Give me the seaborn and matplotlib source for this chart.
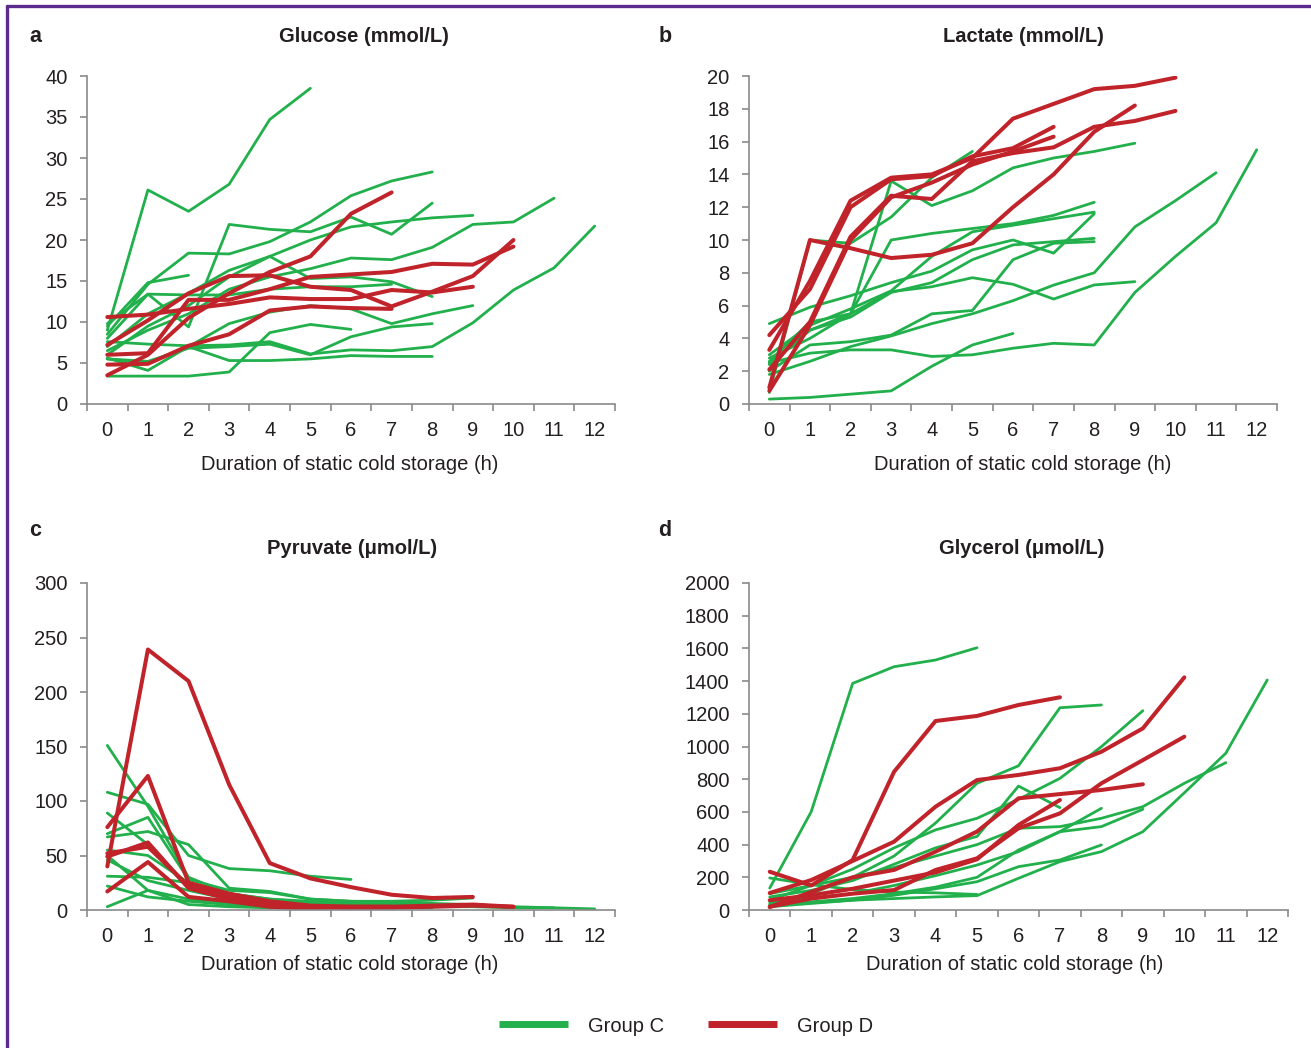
import matplotlib
matplotlib.use("Agg")
import matplotlib.pyplot as plt
from matplotlib.lines import Line2D
from matplotlib.ticker import FixedLocator, FixedFormatter, NullFormatter
import numpy as np
import pandas as pd
import seaborn as sns

GREEN = "#21B04B"
RED = "#C1232B"
PURPLE = "#5B2C8E"
TEXT = "#231F20"
SPINE = "#8A8A8A"

W, H = 1311, 1048

hours = list(range(13))
hour_labels = [str(h) for h in hours]

# each inner list = one kidney, values at 0, 1, 2, ... h
glucose_c = [
    [9.0, 26.1, 23.5, 26.8, 34.7, 38.5],
    [7.6, 7.3, 7.1, 7.2, 7.6, 6.1, 6.6, 6.5, 7.0, 9.9, 13.9, 16.6, 21.7],
    [5.6, 4.1, 7.0, 5.3, 5.3, 5.5, 5.9, 5.8, 5.8],
    [3.4, 3.4, 3.4, 3.9, 8.7, 9.7, 9.1],
    [8.5, 14.6, 18.4, 18.3, 19.8, 22.2, 25.4, 27.2, 28.3],
    [6.5, 9.0, 11.0, 14.0, 15.5, 16.5, 17.8, 17.6, 19.1, 21.9, 22.2, 25.1],
    [8.0, 13.4, 9.4, 21.9, 21.3, 21.0, 22.8, 20.7, 24.5],
    [7.0, 11.0, 13.5, 16.3, 18.0, 20.0, 21.6, 22.2, 22.7, 23.0],
    [6.0, 9.5, 12.0, 15.5, 18.0, 15.3, 15.5, 14.9, 13.1],
    [9.5, 14.8, 15.7],
    [9.8, 13.4, 13.3, 13.3, 14.0, 14.3, 14.3, 14.6],
    [5.5, 5.0, 7.0, 9.8, 11.2, 12.0, 11.6, 9.8, 11.0, 12.0],
    [5.5, 5.2, 6.8, 7.0, 7.3, 6.0, 8.2, 9.4, 9.8],
]
glucose_d = [
    [10.6, 10.9, 11.6, 12.2, 13.0, 12.8, 12.8, 13.9, 13.6, 14.3],
    [7.2, 10.2, 13.5, 15.6, 15.7, 14.3, 13.9, 11.9, 13.7, 15.6, 20.0],
    [6.0, 6.2, 12.7, 12.7, 14.0, 15.5, 15.8, 16.1, 17.1, 17.0, 19.2],
    [3.5, 6.0, 10.5, 13.5, 16.1, 18.0, 23.2, 25.8],
    [4.8, 4.9, 7.1, 8.5, 11.4, 11.9, 11.7, 11.6],
]

lactate_c = [
    [2.5, 3.1, 3.3, 3.3, 2.9, 3.0, 3.4, 3.7, 3.6, 6.8, 9.0, 11.05, 15.5],
    [1.8, 2.6, 3.5, 4.15, 4.9, 5.5, 6.3, 7.25, 8.0, 10.8, 12.4, 14.1],
    [0.3, 0.4, 0.6, 0.8, 2.3, 3.6, 4.3],
    [2.5, 4.5, 5.5, 6.85, 7.15, 7.7, 7.3, 6.4, 7.26, 7.46],
    [2.8, 4.0, 5.5, 13.6, 12.1, 13.0, 14.4, 15.0, 15.4, 15.9],
    [0.7, 10.0, 9.8, 11.4, 13.8, 15.4],
    [2.6, 5.0, 5.5, 10.0, 10.4, 10.7, 11.0, 11.5, 12.3],
    [3.0, 4.8, 5.8, 6.9, 9.0, 10.5, 10.9, 11.3, 11.7],
    [4.9, 5.9, 6.6, 7.4, 8.1, 9.4, 10.0, 9.2, 11.6],
    [2.4, 4.5, 5.3, 6.8, 7.4, 8.8, 9.7, 9.9, 10.1],
    [2.0, 3.6, 3.8, 4.2, 5.5, 5.7, 8.8, 9.8, 9.9],
]
lactate_d = [
    [3.3, 7.5, 12.4, 13.8, 14.0, 15.0, 17.4, 18.3, 19.2, 19.4, 19.9],
    [2.1, 5.0, 10.2, 12.7, 12.5, 14.8, 15.3, 15.65, 16.9, 17.26, 17.87],
    [1.0, 10.0, 9.5, 8.9, 9.1, 9.8, 12.0, 14.0, 16.6, 18.2],
    [4.2, 7.0, 12.0, 13.7, 13.9, 15.1, 15.6, 16.9],
    [0.8, 4.8, 10.0, 12.6, 13.5, 14.6, 15.4, 16.3],
]

pyruvate_c = [
    [151, 95, 30, 15, 10, 8, 7, 6, 6],
    [108, 97, 50, 38, 36, 31, 28],
    [89, 60, 20, 12, 8, 5, 4, 4, 3, 3, 2, 2, 1],
    [70, 85, 28, 18, 16, 10, 8, 8, 9, 11],
    [67, 72, 60, 20, 17, 10, 8, 7, 6, 5, 3, 2],
    [55, 50, 25, 15, 10, 7, 6, 5, 5],
    [46, 27, 18, 10, 6, 5, 4, 4, 4],
    [31, 30, 25, 12, 8, 6, 5, 5, 4, 4],
    [22, 12, 8, 5, 3, 2, 2],
    [3, 18, 10, 6, 4, 3],
    [50, 18, 5, 3, 2, 2, 2, 2, 2],
]
pyruvate_d = [
    [40, 239, 210, 115, 43, 29, 21, 14, 11, 12],
    [76, 123, 25, 15, 8, 4, 3, 3],
    [49, 62, 20, 10, 4, 2, 2, 2, 3, 4, 3],
    [17, 44, 12, 8, 3, 1, 1, 2],
    [52, 58, 22, 12, 6, 3, 3, 3, 4, 5, 3],
]

glycerol_c = [
    [134, 601, 1386, 1488, 1529, 1604],
    [30, 45, 60, 70, 80, 88, 194, 296, 357, 479, 717, 959, 1407],
    [100, 150, 200, 260, 330, 400, 500, 510, 561, 632, 775, 901],
    [60, 150, 250, 380, 490, 561, 677, 805, 999, 1219],
    [40, 100, 200, 330, 532, 775, 882, 1237, 1254],
    [80, 120, 180, 280, 380, 450, 758, 626],
    [50, 70, 100, 150, 210, 275, 357, 479, 510, 616],
    [20, 40, 60, 90, 130, 173, 265, 306, 398],
    [30, 50, 70, 100, 140, 200, 367, 480, 622],
    [196, 155, 125, 110, 105, 95],
]
glycerol_d = [
    [234, 150, 306, 846, 1156, 1187, 1254, 1301],
    [104, 183, 300, 418, 632, 795, 826, 867, 968, 1111, 1423],
    [20, 70, 100, 122, 245, 316, 500, 591, 775, 917, 1060],
    [18, 110, 200, 245, 357, 480, 683, 709, 734, 769],
    [60, 90, 130, 180, 230, 310, 520, 673],
]

# letter, title, data C, data D, y max, y step, axes box in px (l, r, t, b),
# title (x, y), letter (x, y), xlabel (x, y)
panels = [
    ("a", "Glucose (mmol/L)", glucose_c, glucose_d, 40, 5, (87, 615, 76, 404),
     (364, 36), (35, 36), (350, 463)),
    ("b", "Lactate (mmol/L)", lactate_c, lactate_d, 20, 2, (749, 1277, 76, 404),
     (1023, 36), (665, 36), (1023, 463)),
    ("c", "Pyruvate (\u03bcmol/L)", pyruvate_c, pyruvate_d, 300, 50, (87, 615, 583, 910),
     (352, 548), (35, 531), (350, 963)),
    ("d", "Glycerol (\u03bcmol/L)", glycerol_c, glycerol_d, 2000, 200, (749, 1288, 583, 910),
     (1022, 548), (665, 531), (1015, 963)),
]


def to_long(c_lines, d_lines):
    rows = []
    for group, lines in (("Group C", c_lines), ("Group D", d_lines)):
        for i, vals in enumerate(lines):
            for h, v in enumerate(vals):
                rows.append({"group": group, "kidney": f"{group}-{i}", "hour": h, "value": v})
    return pd.DataFrame(rows)


sns.set_theme(style="ticks")
plt.rcParams["font.family"] = ["Liberation Sans", "DejaVu Sans"]
FS = 14.5

fig = plt.figure(figsize=(W / 100, H / 100), dpi=100)

for letter, title, c_lines, d_lines, ymax, ystep, box, title_xy, letter_xy, xlab_xy in panels:
    l, r, t, b = box
    ax = fig.add_axes([l / W, 1 - b / H, (r - l) / W, (b - t) / H])
    df = to_long(c_lines, d_lines)
    sns.lineplot(
        data=df, x="hour", y="value", hue="group", size="group",
        units="kidney", estimator=None, sort=False, legend=False, ax=ax,
        palette={"Group C": GREEN, "Group D": RED},
        sizes={"Group C": 2.0, "Group D": 2.9},
        hue_order=["Group C", "Group D"],
        solid_capstyle="round", solid_joinstyle="round",
    )
    ax.set_xlim(-0.5, 12.5)
    ax.set_ylim(0, ymax)
    ax.set_xlabel("")
    ax.set_ylabel("")
    sns.despine(ax=ax)
    for side in ("left", "bottom"):
        ax.spines[side].set_color(SPINE)
        ax.spines[side].set_linewidth(1.2)

    # ticks sit between the hours, labels centred on them
    ax.xaxis.set_major_locator(FixedLocator(np.arange(-0.5, 13, 1)))
    ax.xaxis.set_major_formatter(NullFormatter())
    ax.xaxis.set_minor_locator(FixedLocator(hours))
    ax.xaxis.set_minor_formatter(FixedFormatter(hour_labels))
    ax.tick_params(axis="x", which="major", length=5, width=1.2, color=SPINE, direction="out")
    ax.tick_params(axis="x", which="minor", length=0, pad=12, labelsize=FS, labelcolor=TEXT)
    ax.set_yticks(np.arange(0, ymax + ystep / 2, ystep))
    ax.tick_params(axis="y", length=5, width=1.2, color=SPINE, direction="out",
                   pad=9, labelsize=FS, labelcolor=TEXT)

    fig.text(title_xy[0] / W, 1 - title_xy[1] / H, title, ha="center", va="center",
             fontsize=FS, fontweight="bold", color=TEXT)
    fig.text(letter_xy[0] / W, 1 - letter_xy[1] / H, letter, ha="center", va="center",
             fontsize=FS + 1, fontweight="bold", color=TEXT)
    fig.text(xlab_xy[0] / W, 1 - (xlab_xy[1] + 1) / H, "Duration of static cold storage (h)",
             ha="center", va="center", fontsize=FS, color=TEXT)

handles = [
    Line2D([], [], color=GREEN, lw=5, solid_capstyle="butt"),
    Line2D([], [], color=RED, lw=5, solid_capstyle="butt"),
]
fig.legend(handles, ["Group C", "Group D"], loc="center", bbox_to_anchor=(686 / W, 1 - 1026 / H),
           ncol=2, frameon=False, fontsize=FS, handlelength=3.4, handletextpad=1.0,
           columnspacing=2.2, labelcolor=TEXT)

# purple frame on the top and left edges
fig.add_artist(Line2D([7 / W, 1], [1 - 6 / H, 1 - 6 / H], color=PURPLE, lw=2.4, transform=fig.transFigure))
fig.add_artist(Line2D([7 / W, 7 / W], [0, 1 - 6 / H], color=PURPLE, lw=2.4, transform=fig.transFigure))

fig.savefig("out.png", dpi=100)
